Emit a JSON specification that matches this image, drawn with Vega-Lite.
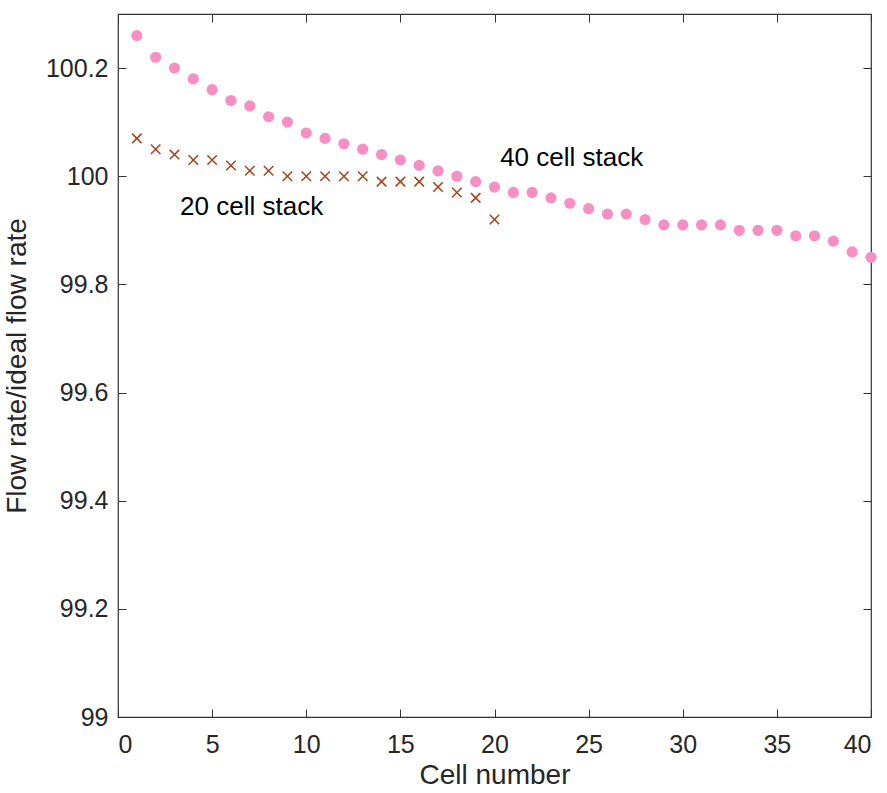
{
  "$schema": "https://vega.github.io/schema/vega-lite/v6.json",
  "autosize": {"type": "none"},
  "padding": {"left": 118, "top": 14, "right": 16, "bottom": 76},
  "width": 753,
  "height": 703,
  "background": "white",
  "config": {
    "font": "Liberation Sans",
    "view": {"stroke": "#333333", "strokeWidth": 1.2},
    "axis": {
      "grid": false,
      "domain": false,
      "tickColor": "#333333",
      "tickSize": -8,
      "labelColor": "#262626",
      "labelFont": "Liberation Sans",
      "labelFontSize": 25,
      "titleFont": "Liberation Sans",
      "titleFontSize": 28,
      "titleFontWeight": "normal",
      "titleColor": "#262626"
    }
  },
  "datasets": {
    "s40": [
      {"cell": 1, "ratio": 100.26}, {"cell": 2, "ratio": 100.22}, {"cell": 3, "ratio": 100.2}, {"cell": 4, "ratio": 100.18},
      {"cell": 5, "ratio": 100.16}, {"cell": 6, "ratio": 100.14}, {"cell": 7, "ratio": 100.13}, {"cell": 8, "ratio": 100.11},
      {"cell": 9, "ratio": 100.1}, {"cell": 10, "ratio": 100.08}, {"cell": 11, "ratio": 100.07}, {"cell": 12, "ratio": 100.06},
      {"cell": 13, "ratio": 100.05}, {"cell": 14, "ratio": 100.04}, {"cell": 15, "ratio": 100.03}, {"cell": 16, "ratio": 100.02},
      {"cell": 17, "ratio": 100.01}, {"cell": 18, "ratio": 100.0}, {"cell": 19, "ratio": 99.99}, {"cell": 20, "ratio": 99.98},
      {"cell": 21, "ratio": 99.97}, {"cell": 22, "ratio": 99.97}, {"cell": 23, "ratio": 99.96}, {"cell": 24, "ratio": 99.95},
      {"cell": 25, "ratio": 99.94}, {"cell": 26, "ratio": 99.93}, {"cell": 27, "ratio": 99.93}, {"cell": 28, "ratio": 99.92},
      {"cell": 29, "ratio": 99.91}, {"cell": 30, "ratio": 99.91}, {"cell": 31, "ratio": 99.91}, {"cell": 32, "ratio": 99.91},
      {"cell": 33, "ratio": 99.9}, {"cell": 34, "ratio": 99.9}, {"cell": 35, "ratio": 99.9}, {"cell": 36, "ratio": 99.89},
      {"cell": 37, "ratio": 99.89}, {"cell": 38, "ratio": 99.88}, {"cell": 39, "ratio": 99.86}, {"cell": 40, "ratio": 99.85}
    ],
    "s20": [
      {"cell": 1, "ratio": 100.07}, {"cell": 2, "ratio": 100.05}, {"cell": 3, "ratio": 100.04}, {"cell": 4, "ratio": 100.03},
      {"cell": 5, "ratio": 100.03}, {"cell": 6, "ratio": 100.02}, {"cell": 7, "ratio": 100.01}, {"cell": 8, "ratio": 100.01},
      {"cell": 9, "ratio": 100.0}, {"cell": 10, "ratio": 100.0}, {"cell": 11, "ratio": 100.0}, {"cell": 12, "ratio": 100.0},
      {"cell": 13, "ratio": 100.0}, {"cell": 14, "ratio": 99.99}, {"cell": 15, "ratio": 99.99}, {"cell": 16, "ratio": 99.99},
      {"cell": 17, "ratio": 99.98}, {"cell": 18, "ratio": 99.97}, {"cell": 19, "ratio": 99.96}, {"cell": 20, "ratio": 99.92}
    ],
    "labels": [
      {"cell": 20.3, "ratio": 100.033, "label": "40 cell stack"},
      {"cell": 3.3, "ratio": 99.943, "label": "20 cell stack"}
    ]
  },
  "layer": [
    {
      "data": {"name": "s40"},
      "mark": {"type": "point", "shape": "circle", "filled": true, "size": 125, "color": "#F78FC3", "opacity": 1},
      "encoding": {
        "x": {"field": "cell", "type": "quantitative", "scale": {"domain": [0, 40], "nice": false},
              "axis": {"title": "Cell number", "values": [0,5,10,15,20,25,30,35,40], "labelPadding": 23, "titlePadding": 4}},
        "y": {"field": "ratio", "type": "quantitative", "scale": {"domain": [99, 100.3], "nice": false, "zero": false},
              "axis": {"title": "Flow rate/ideal flow rate", "format": "~g", "values": [99, 99.2, 99.4, 99.6, 99.8, 100, 100.2], "labelPadding": 18, "titlePadding": 14}}
      }
    },
    {
      "data": {"name": "s20"},
      "mark": {"type": "point", "shape": "M-1,-1L1,1M-1,1L1,-1", "filled": false, "strokeWidth": 1.5, "size": 90, "color": "#A4431A", "opacity": 1},
      "encoding": {
        "x": {"field": "cell", "type": "quantitative", "axis": null},
        "y": {"field": "ratio", "type": "quantitative", "axis": null}
      }
    },
    {
      "data": {"name": "labels"},
      "mark": {"type": "text", "align": "left", "baseline": "middle", "fontSize": 26, "font": "Liberation Sans", "color": "#000000"},
      "encoding": {
        "x": {"field": "cell", "type": "quantitative", "axis": null},
        "y": {"field": "ratio", "type": "quantitative", "axis": null},
        "text": {"field": "label"}
      }
    },
    {
      "data": {"values": [{"cell": 0, "ratio": 99}]},
      "mark": {"type": "point", "opacity": 0},
      "encoding": {
        "x": {"field": "cell", "type": "quantitative", "axis": {"orient": "top", "labels": false, "title": null, "values": [0,5,10,15,20,25,30,35,40]}},
        "y": {"field": "ratio", "type": "quantitative", "axis": {"orient": "right", "labels": false, "title": null, "values": [99, 99.2, 99.4, 99.6, 99.8, 100, 100.2]}}
      }
    }
  ],
  "resolve": {"axis": {"x": "independent", "y": "independent"}}
}
